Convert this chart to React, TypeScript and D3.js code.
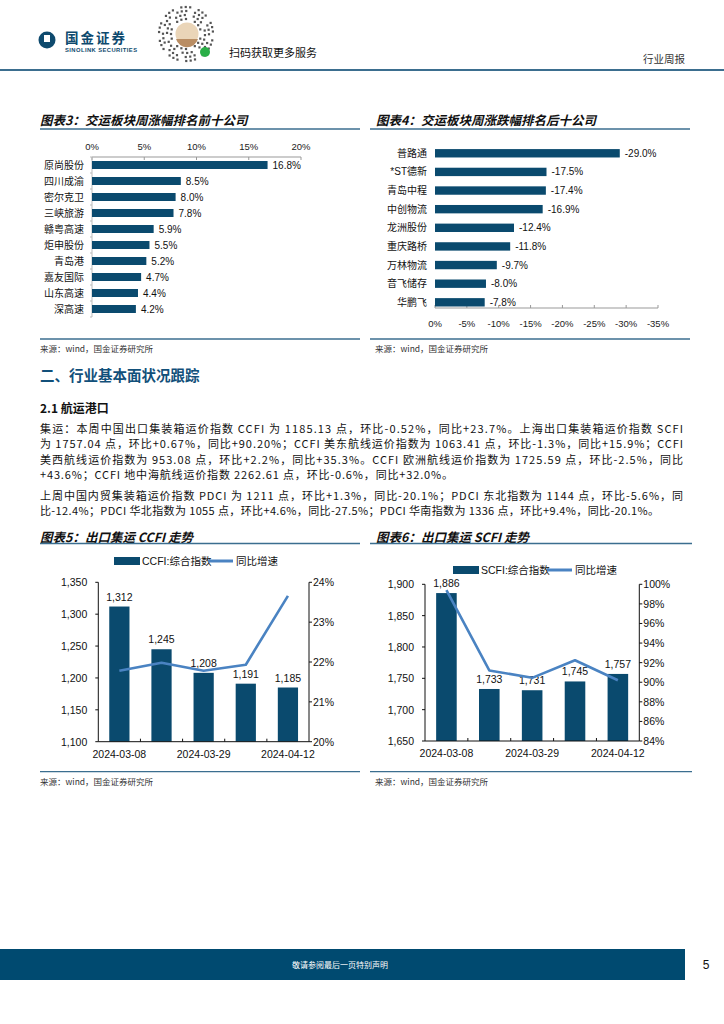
import React from 'react';
import * as d3 from 'd3';

const topNames = ['原尚股份', '四川成渝', '密尔克卫', '三峡旅游', '赣粤高速', '炬申股份', '青岛港', '嘉友国际', '山东高速', '深高速'];
const topValues = [16.8, 8.5, 8.0, 7.8, 5.9, 5.5, 5.2, 4.7, 4.4, 4.2];
const topTicks = [0, 5, 10, 15, 20];

const bottomNames = ['普路通', '*ST德新', '青岛中程', '中创物流', '龙洲股份', '重庆路桥', '万林物流', '音飞储存', '华鹏飞'];
const bottomValues = [-29.0, -17.5, -17.4, -16.9, -12.4, -11.8, -9.7, -8.0, -7.8];
const bottomTicks = [0, -5, -10, -15, -20, -25, -30, -35];

const dates = ['2024-03-08', '2024-03-22', '2024-03-29', '2024-04-03', '2024-04-12'];
const shownDates = ['2024-03-08', '2024-03-29', '2024-04-12'];
const ccfiValues = [1312, 1245, 1208, 1191, 1185];
const ccfiYoy = [21.78, 21.98, 21.78, 21.93, 23.66];
const ccfiTicks = [1100, 1150, 1200, 1250, 1300, 1350];
const ccfiYoyTicks = [20, 21, 22, 23, 24];

const scfiValues = [1886, 1733, 1731, 1745, 1757];
const scfiYoy = [99.4, 91.2, 90.45, 92.25, 90.2];
const scfiTicks = [1650, 1700, 1750, 1800, 1850, 1900];
const scfiYoyTicks = [84, 86, 88, 90, 92, 94, 96, 98, 100];

const paraLines1 = [
  '集运：本周中国出口集装箱运价指数 CCFI 为 1185.13 点，环比-0.52%，同比+23.7%。上海出口集装箱运价指数 SCFI',
  '为 1757.04  点，环比+0.67%，同比+90.20%；CCFI 美东航线运价指数为 1063.41 点，环比-1.3%，同比+15.9%；CCFI',
  '美西航线运价指数为 953.08 点，环比+2.2%，同比+35.3%。CCFI 欧洲航线运价指数为 1725.59 点，环比-2.5%，同比',
  '+43.6%；CCFI 地中海航线运价指数 2262.61 点，环比-0.6%，同比+32.0%。',
];
const paraLines2 = [
  '上周中国内贸集装箱运价指数 PDCI 为 1211 点，环比+1.3%，同比-20.1%；PDCI 东北指数为 1144 点，环比-5.6%，同',
  '比-12.4%；PDCI 华北指数为 1055 点，环比+4.6%，同比-27.5%；PDCI 华南指数为 1336 点，环比+9.4%，同比-20.1%。',
];

const BAR = '#0a4a6e';
const LINE = '#4a83c2';
const RULE = '#3b6e8f';
const FONT = '"Liberation Sans", Arial, "Noto Sans CJK SC", sans-serif';
const CJK = '"Noto Sans CJK SC", sans-serif';

const fmtComma = d3.format(',');

function Title({ x, y, text, x1, x2, ly }: any) {
  return (
    <g>
      <text x={x} y={y} fontFamily={CJK} fontSize={12.5} fontWeight="bold" fontStyle="italic" dominantBaseline="central" fill="#111">{text}</text>
      <line x1={x1} x2={x2} y1={ly} y2={ly} stroke={RULE} strokeWidth={1.3} />
    </g>
  );
}

function Source({ x, y, x1, x2, ly }: any) {
  return (
    <g>
      <line x1={x1} x2={x2} y1={ly} y2={ly} stroke={RULE} strokeWidth={1.3} />
      <text x={x} y={y} fontFamily={CJK} fontSize={8.5} fill="#333" dominantBaseline="central">来源：wind，国金证券研究所</text>
    </g>
  );
}

function TopChart() {
  const x = d3.scaleLinear().domain([0, 20]).range([92, 301]);
  const y = d3.scaleBand().domain(topNames).range([157, 317]).paddingInner(0.5).paddingOuter(0.25);
  const bounds = topNames.map((n) => (y(n) as number) - y.step() * 0.25).concat([317]);
  return (
    <g fontFamily={FONT}>
      <line x1={x(0)} x2={x(20)} y1={157} y2={157} stroke="#999" />
      {topTicks.map((t) => (
        <g key={t}>
          <line x1={x(t)} x2={x(t)} y1={157} y2={160} stroke="#999" />
          <text x={x(t)} y={146} textAnchor="middle" dominantBaseline="central" fontSize={9.5} fill="#222">{t}%</text>
        </g>
      ))}
      <line x1={92} x2={92} y1={157} y2={317} stroke="#bbb" />
      {bounds.map((b, i) => (
        <line key={i} x1={90} x2={92} y1={b} y2={b} stroke="#bbb" />
      ))}
      {topNames.map((n, i) => (
        <g key={n}>
          <rect x={x(0)} y={y(n)} width={x(topValues[i]) - x(0)} height={y.bandwidth()} fill={BAR} />
          <text x={84} y={(y(n) as number) + y.bandwidth() / 2} textAnchor="end" dominantBaseline="central" fontSize={10} fill="#111">{n}</text>
          <text x={x(topValues[i]) + 5} y={(y(n) as number) + y.bandwidth() / 2} dominantBaseline="central" fontSize={10} fill="#111">{topValues[i].toFixed(1)}%</text>
        </g>
      ))}
    </g>
  );
}

function BottomChart() {
  const x = d3.scaleLinear().domain([0, -35]).range([435, 658]);
  const y = d3.scaleBand().domain(bottomNames).range([147.6, 308]).paddingInner(0.55).paddingOuter(0.08);
  return (
    <g fontFamily={FONT}>
      <line x1={x(0)} x2={x(-35)} y1={308} y2={308} stroke="#999" />
      {bottomTicks.map((t) => (
        <g key={t}>
          <line x1={x(t)} x2={x(t)} y1={305} y2={308} stroke="#999" />
          <text x={x(t)} y={323} textAnchor="middle" dominantBaseline="central" fontSize={9.5} fill="#222">{t}%</text>
        </g>
      ))}
      {bottomNames.map((n, i) => (
        <g key={n}>
          <rect x={x(0)} y={y(n)} width={x(bottomValues[i]) - x(0)} height={y.bandwidth()} fill={BAR} />
          <text x={427} y={(y(n) as number) + y.bandwidth() / 2} textAnchor="end" dominantBaseline="central" fontSize={10} fill="#111">{n}</text>
          <text x={x(bottomValues[i]) + 5} y={(y(n) as number) + y.bandwidth() / 2} dominantBaseline="central" fontSize={10} fill="#111">{bottomValues[i].toFixed(1)}%</text>
        </g>
      ))}
    </g>
  );
}

function ComboChart({ left, right, top, bottom, values, yoy, ticks, yoyTicks, legendName, legendY, legendX }: any) {
  const x = d3.scaleBand().domain(dates).range([left, right]).paddingInner(0.52).paddingOuter(0.26);
  const yL = d3.scaleLinear().domain([ticks[0], ticks[ticks.length - 1]]).range([bottom, top]);
  const yR = d3.scaleLinear().domain([yoyTicks[0], yoyTicks[yoyTicks.length - 1]]).range([bottom, top]);
  const cx = (d: string) => (x(d) as number) + x.bandwidth() / 2;
  const line = d3.line<number>().x((_, i) => cx(dates[i])).y((v) => yR(v));
  const bounds = dates.slice(1).map((d) => (x(d) as number) - (x.step() - x.bandwidth()) / 2);
  return (
    <g fontFamily={FONT}>
      <rect x={legendX} y={legendY - 4} width={26} height={8} fill={BAR} />
      <text x={legendX + 28} y={legendY} dominantBaseline="central" fontSize={10.5} fill="#111">{legendName}</text>
      <line x1={legendX + 94} x2={legendX + 119} y1={legendY} y2={legendY} stroke={LINE} strokeWidth={3} />
      <text x={legendX + 122} y={legendY} dominantBaseline="central" fontSize={10.5} fill="#111">同比增速</text>
      {dates.map((d, i) => (
        <g key={d}>
          <rect x={x(d)} y={yL(values[i])} width={x.bandwidth()} height={bottom - yL(values[i])} fill={BAR} />
          <text x={cx(d)} y={yL(values[i]) - 10} textAnchor="middle" dominantBaseline="central" fontSize={10.5} fill="#111">{fmtComma(values[i])}</text>
        </g>
      ))}
      <path d={line(yoy) as string} fill="none" stroke={LINE} strokeWidth={2.6} strokeLinejoin="round" />
      <line x1={left} x2={left} y1={top} y2={bottom} stroke="#111" />
      <line x1={right} x2={right} y1={top} y2={bottom} stroke="#111" />
      <line x1={left} x2={right} y1={bottom} y2={bottom} stroke="#111" />
      {ticks.map((t: number) => (
        <g key={t}>
          <line x1={left - 3} x2={left} y1={yL(t)} y2={yL(t)} stroke="#111" />
          <text x={left - 11} y={yL(t)} textAnchor="end" dominantBaseline="central" fontSize={10.5} fill="#111">{fmtComma(t)}</text>
        </g>
      ))}
      {yoyTicks.map((t: number) => (
        <g key={t}>
          <line x1={right} x2={right + 3} y1={yR(t)} y2={yR(t)} stroke="#111" />
          <text x={right + 4} y={yR(t)} dominantBaseline="central" fontSize={10.5} fill="#111">{t}%</text>
        </g>
      ))}
      {bounds.map((b, i) => (
        <line key={i} x1={b} x2={b} y1={bottom - 3} y2={bottom} stroke="#111" />
      ))}
      {shownDates.map((d) => (
        <text key={d} x={cx(d)} y={bottom + 12} textAnchor="middle" dominantBaseline="central" fontSize={10.5} fill="#111">{d}</text>
      ))}
    </g>
  );
}

function QR() {
  const dots: JSX.Element[] = [];
  const cxq = 186, cyq = 34;
  for (let r = 0; r < 4; r++) {
    const rad = 15 + r * 4;
    const n = 20 + r * 6;
    for (let k = 0; k < n; k++) {
      const a = (k / n) * Math.PI * 2 + r * 0.3;
      if ((k * 7 + r * 3) % 4 === 0) continue;
      dots.push(<rect key={`${r}-${k}`} x={cxq + rad * Math.cos(a) - 1.1} y={cyq + rad * Math.sin(a) - 1.1} width={2.2} height={2.2} fill="#555" />);
    }
  }
  return (
    <g>
      {dots}
      <circle cx={cxq + 1} cy={cyq} r={11.5} fill="#ead5b8" />
      <path d={`M ${cxq - 10} ${cyq + 5} A 11.5 11.5 0 0 0 ${cxq + 12} ${cyq + 5} Z`} fill="#b98d63" />
      <circle cx={205} cy={52} r={5} fill="#2aae47" />
    </g>
  );
}

export default function App() {
  return (
    <svg width={724} height={1024} style={{ position: 'absolute', left: 0, top: 0, background: '#fff' }}>
      <rect x={0} y={0} width={724} height={1024} fill="#fff" />
      <circle cx={47} cy={40} r={8.5} fill="#0e4a6e" />
      <rect x={44} y={35} width={6} height={7} fill="#fff" />
      <text x={65} y={36.5} fontFamily={CJK} fontSize={13.5} fontWeight="bold" fill="#0e4a6e" dominantBaseline="central" textLength={60}>国金证券</text>
      <text x={65} y={49.5} fontFamily={FONT} fontSize={5.8} fontWeight="bold" fill="#0e4a6e" dominantBaseline="central" textLength={72}>SINOLINK SECURITIES</text>
      <QR />
      <text x={229} y={52} fontFamily={CJK} fontSize={11} fill="#111" dominantBaseline="central">扫码获取更多服务</text>
      <text x={643} y={58} fontFamily={CJK} fontSize={10.5} fill="#333" dominantBaseline="central">行业周报</text>
      <line x1={0} x2={724} y1={70} y2={70} stroke={RULE} strokeWidth={1.8} />

      <Title x={40} y={119} text="图表3：交运板块周涨幅排名前十公司" x1={40} x2={360} ly={129} />
      <Title x={376} y={119} text="图表4：交运板块周涨跌幅排名后十公司" x1={370} x2={690} ly={129} />
      <TopChart />
      <BottomChart />
      <Source x={40} y={348} x1={40} x2={360} ly={339} />
      <Source x={375} y={348} x1={370} x2={690} ly={339} />

      <text x={40} y={374} fontFamily={CJK} fontSize={14.5} fontWeight="bold" fill="#12507a" dominantBaseline="central">二、行业基本面状况跟踪</text>
      <text x={40} y={407} fontFamily={CJK} fontSize={12} fontWeight="bold" fill="#111" dominantBaseline="central">2.1 航运港口</text>
      {paraLines1.map((l, i) => (
        <text key={i} x={40} y={428 + i * 15.3} fontFamily={CJK} fontSize={11} fill="#111" dominantBaseline="central"
          textLength={i === 3 ? 413 : 643} lengthAdjust="spacing">{l}</text>
      ))}
      {paraLines2.map((l, i) => (
        <text key={i} x={40} y={495 + i * 15.3} fontFamily={CJK} fontSize={11} fill="#111" dominantBaseline="central"
          textLength={i === 1 ? 619 : 643} lengthAdjust="spacing">{l}</text>
      ))}

      <Title x={40} y={536} text="图表5：出口集运 CCFI 走势" x1={40} x2={360} ly={543.5} />
      <Title x={376} y={536} text="图表6：出口集运 SCFI 走势" x1={370} x2={692} ly={543.5} />
      <ComboChart left={98.3} right={309} top={582.3} bottom={741.7} values={ccfiValues} yoy={ccfiYoy}
        ticks={ccfiTicks} yoyTicks={ccfiYoyTicks} legendName="CCFI:综合指数" legendY={561} legendX={114} />
      <ComboChart left={425} right={639.3} top={584.3} bottom={741} values={scfiValues} yoy={scfiYoy}
        ticks={scfiTicks} yoyTicks={scfiYoyTicks} legendName="SCFI:综合指数" legendY={570} legendX={453} />
      <Source x={40} y={781} x1={40} x2={360} ly={771.7} />
      <Source x={375} y={781} x1={370} x2={692} ly={771.7} />

      <rect x={0} y={949} width={685} height={31} fill="#004a70" />
      <text x={340} y={964.5} fontFamily={CJK} fontSize={8} fill="#fff" textAnchor="middle" dominantBaseline="central">敬请参阅最后一页特别声明</text>
      <text x={706} y={965} fontFamily={FONT} fontSize={12} fill="#111" textAnchor="middle" dominantBaseline="central">5</text>
    </svg>
  );
}
